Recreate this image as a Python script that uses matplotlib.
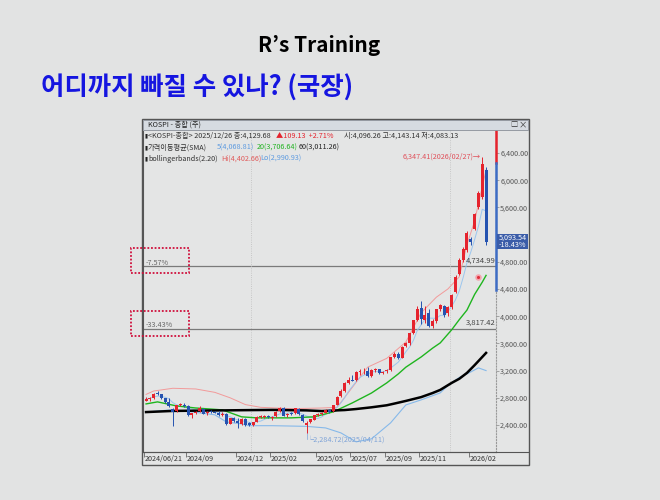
import matplotlib
matplotlib.use('Agg')
import matplotlib.pyplot as plt
from matplotlib.patches import Rectangle
import pandas as pd

plt.rcParams['font.family'] = ['Noto Sans CJK KR', 'DejaVu Sans']

# weekly candles, 2024/06/21 .. 2026/03/06
opens = [2760, 2780, 2800, 2866, 2850, 2790, 2740, 2640, 2600, 2700,
         2700, 2680, 2540, 2580, 2600, 2640, 2570, 2600, 2590, 2580,
         2540, 2560, 2420, 2500, 2460, 2410, 2490, 2430, 2400, 2440,
         2515, 2520, 2530, 2510, 2530, 2600, 2650, 2540, 2570, 2570,
         2640, 2550, 2400, 2440, 2480, 2550, 2560, 2580, 2620, 2600,
         2700, 2820, 2900, 3020, 3060, 3060, 3180, 3190, 3200, 3120,
         3210, 3220, 3170, 3190, 3210, 3400, 3450, 3390, 3560, 3600,
         3750, 3950, 4120, 3950, 4050, 3860, 3930, 4110, 4150, 4040,
         4130, 4350, 4620, 4830, 4970, 5130, 5280, 5600, 5750, 6150]
highs = [2810, 2810, 2870, 2896, 2860, 2800, 2790, 2650, 2700, 2720,
         2720, 2690, 2580, 2600, 2680, 2650, 2610, 2620, 2610, 2600,
         2590, 2570, 2510, 2520, 2500, 2500, 2500, 2450, 2450, 2530,
         2540, 2540, 2540, 2530, 2600, 2670, 2660, 2580, 2590, 2650,
         2650, 2560, 2460, 2490, 2550, 2570, 2590, 2640, 2630, 2700,
         2820, 2930, 3030, 3100, 3130, 3190, 3220, 3240, 3250, 3230,
         3240, 3230, 3200, 3220, 3400, 3470, 3480, 3560, 3620, 3760,
         3950, 4150, 4230, 4150, 4100, 3960, 4110, 4180, 4160, 4143,
         4320, 4600, 4850, 5020, 5250, 5160, 5520, 5840, 6347.41, 6200]
lows = [2750, 2760, 2780, 2840, 2780, 2720, 2670, 2386, 2590, 2680,
        2660, 2530, 2500, 2560, 2590, 2560, 2550, 2580, 2570, 2530,
        2530, 2400, 2410, 2440, 2360, 2400, 2390, 2390, 2390, 2440,
        2500, 2510, 2500, 2480, 2520, 2590, 2530, 2520, 2540, 2560,
        2550, 2450, 2284.72, 2430, 2470, 2530, 2550, 2570, 2570, 2590,
        2690, 2810, 2890, 3010, 3040, 3050, 3140, 3150, 3110, 3100,
        3180, 3150, 3150, 3170, 3200, 3380, 3370, 3380, 3540, 3580,
        3740, 3930, 3880, 3900, 3840, 3820, 3900, 4080, 3990, 4010,
        4110, 4340, 4600, 4800, 4950, 5050, 5260, 5580, 5730, 5050]
closes = [2784, 2797, 2862, 2857, 2795, 2731, 2676, 2588, 2697, 2701,
          2674, 2544, 2575, 2593, 2649, 2569, 2596, 2593, 2583, 2542,
          2561, 2416, 2501, 2455, 2428, 2494, 2404, 2404, 2441, 2515,
          2523, 2536, 2517, 2522, 2591, 2654, 2532, 2563, 2566, 2643,
          2557, 2465, 2432, 2483, 2546, 2559, 2577, 2626, 2592, 2697,
          2812, 2894, 3021, 3055, 3054, 3175, 3188, 3196, 3119, 3210,
          3225, 3168, 3186, 3205, 3395, 3445, 3386, 3549, 3610, 3748,
          3941, 4107, 3953, 4011, 3853, 3926, 4100, 4167, 4020, 4130,
          4310, 4580, 4830, 4990, 5220, 5090, 5500, 5810, 6240, 5093.54]

month_labels = ['2024/06/21', '2024/09', '2024/12', '2025/02', '2025/05',
                '2025/07', '2025/09', '2025/11', '2026/02']
month_weeks = [0, 11, 24, 33, 45, 54, 63, 72, 85]

ma20_weeks = [0, 3, 8, 13, 20, 25, 29, 38, 44, 49, 54, 59, 63, 66, 68, 72, 75, 77, 80, 82, 84, 86, 88, 89]
ma20_vals = [2710, 2740, 2680, 2650, 2622, 2520, 2505, 2505, 2520, 2593,
             2725, 2870, 3019, 3150, 3250, 3400, 3530, 3607, 3800, 3950,
             4090, 4320, 4500, 4600]
ma60_weeks = [0, 7, 20, 33, 42, 46, 52, 55, 59, 63, 65, 68, 72, 75, 77, 80, 82, 84, 86, 88, 89]
ma60_vals = [2590, 2607, 2615, 2622, 2615, 2605, 2620, 2635, 2660, 2690,
             2715, 2754, 2810, 2870, 2916, 3019, 3080, 3166, 3280, 3400, 3460]
bb_hi_weeks = [0, 2, 7, 13, 18, 22, 26, 30, 38, 46, 50, 53, 58, 63, 68, 72, 76, 79, 82, 84, 86, 88, 89]
bb_hi_vals = [2850, 2900, 2940, 2930, 2880, 2800, 2700, 2660, 2640, 2650, 2660,
              2880, 3250, 3380, 3620, 4050, 4280, 4400, 4580, 5050, 5400, 5900, 6150]
bb_lo_weeks = [0, 6, 12, 18, 21, 25, 27, 33, 42, 47, 51, 55, 59, 64, 68, 72, 77, 79, 82, 85, 87, 89]
bb_lo_vals = [2590, 2620, 2593, 2550, 2445, 2416, 2390, 2390, 2380, 2357, 2284,
              2152, 2196, 2431, 2695, 2769, 2872, 2980, 3100, 3180, 3240, 3200]

price_ticks = [2400, 2800, 3200, 3600, 4000, 4400, 4800, 5600, 6000, 6400]
level_lines = [4734.99, 3817.42]

BG = '#e2e3e3'
RED = '#e5232d'
BLUE = '#2553b0'
W, H = 660, 500


def px(x0, y0, x1, y1):
    return [x0 / W, 1 - y1 / H, (x1 - x0) / W, (y1 - y0) / H]


def ftext(x, y, s, **kw):
    kw.setdefault('fontsize', 5.2)
    kw.setdefault('va', 'center')
    fig.text(x / W, 1 - y / H, s, **kw)


fig = plt.figure(figsize=(6.6, 5), dpi=100, facecolor=BG)

# slide titles
ftext(319, 45, 'R’s Training', fontsize=15, fontweight='bold', ha='center', color='black')
ftext(41, 88, '어디까지 빠질 수 있나? (국장)', fontsize=18.3, fontweight='bold',
      ha='left', color='#1515e0')

# chart window frame and title bar
fig.patches.append(Rectangle((142 / W, 1 - 465 / H), 387 / W, 346 / H, transform=fig.transFigure,
                             facecolor='#e4e5e5', edgecolor='#555555', lw=1.0, zorder=-1))
fig.patches.append(Rectangle((143 / W, 1 - 130 / H), 385 / W, 10 / H, transform=fig.transFigure,
                             facecolor='#d6dbe1', edgecolor='#8a9099', lw=0.6, zorder=1))
ftext(148, 125, 'KOSPI - 종합 (주)', color='#222222')
ftext(510, 125, '□', color='#333333')
ftext(519, 125, '×', color='#333333', fontsize=6)

ax = fig.add_axes(px(143, 131, 496, 452))
ax.set_facecolor('#e4e5e5')
ax.set_xlim(-0.8, 91.6)
ax.set_ylim(2003, 6723)

# candles
xs = list(range(len(closes)))
for i in xs:
    o, h, l, c = opens[i], highs[i], lows[i], closes[i]
    col = RED if c >= o else BLUE
    ax.vlines(i, l, h, color=col, lw=0.7, zorder=3)
    ax.bar(i, max(abs(c - o), 10), bottom=min(o, c), width=0.78, color=col, zorder=4, lw=0)

# indicators
ax.plot(bb_hi_weeks, bb_hi_vals, color='#f29a9a', lw=0.7, zorder=2)
ax.plot(bb_lo_weeks, bb_lo_vals, color='#86b9ea', lw=0.8, zorder=2)
ma5 = pd.Series(closes).rolling(5, min_periods=1).mean()
ax.plot(xs, ma5, color='#9cc6ee', lw=0.7, zorder=2)
ax.plot(ma20_weeks, ma20_vals, color='#1fb51f', lw=1.0, zorder=2)
ax.plot(ma60_weeks, ma60_vals, color='black', lw=1.8, zorder=2, solid_joinstyle='round')

# level lines
for lv in level_lines:
    ax.axhline(lv, color='#7a7a7a', lw=0.9, zorder=1)
    ax.text(91.5, lv + 25, f'{lv:,.2f}', ha='right', va='bottom', fontsize=5.5, color='#444444')

# year separators
for xv in [27.5, 79.5]:
    ax.axvline(xv, color='#bdbdbd', lw=0.6, ls=':', zorder=1)

# annotations
ax.text(87.7, 6347.41, '6,347.41(2026/02/27)→', ha='right', va='center', fontsize=5.2, color='#e0505a')
ax.plot([42, 42], [2284.72, 2190], color='#7fa4d8', lw=0.5)
ax.text(42, 2190, '└2,284.72(2025/04/11)', ha='left', va='center', fontsize=5.2, color='#7fa4d8')
ax.scatter([87], [4580], s=22, color='#f4a4ad', zorder=5, lw=0)
ax.scatter([87], [4580], s=5, color='#e0303c', zorder=6, lw=0)

# right price axis
ax.yaxis.tick_right()
ax.set_yticks(price_ticks)
ax.set_yticklabels([f'{v:,.2f}' for v in price_ticks])
ax.tick_params(axis='y', direction='out', length=2, width=0.5, colors='#888888',
               labelsize=5.2, labelcolor='#555555', pad=1)
ax.set_xticks([])
ax.spines['top'].set_visible(False)
ax.spines['right'].set_linestyle(':')
ax.spines['right'].set_color('#999999')
ax.spines['left'].set_color('#555555')
ax.spines['bottom'].set_color('#555555')
ax.plot([91.5, 91.5], [6253, 6723], color=RED, lw=1.8, clip_on=False, zorder=6)
ax.plot([91.5, 91.5], [4385, 6253], color='#3d6cc4', lw=1.8, clip_on=False, zorder=6)

# current price box
fig.patches.append(Rectangle((497 / W, 1 - 249 / H), 31 / W, 15 / H, transform=fig.transFigure,
                             facecolor='#3a5ca8', edgecolor='none', zorder=5))
ftext(499, 237.5, '5,093.54', color='white', zorder=6)
ftext(499, 245, '-18.43%', color='white', zorder=6)

# date axis
axd = fig.add_axes(px(143, 452, 496, 464))
axd.set_facecolor('#e4e5e5')
axd.set_xlim(-0.8, 91.6)
axd.set_ylim(0, 1)
axd.axis('off')
for wk, lab in zip(month_weeks, month_labels):
    xt = max(wk - 0.5, -0.75)
    axd.vlines(xt, 0.55, 1, color='#666666', lw=0.6)
    axd.text(xt + 0.15, 0.45, lab, ha='left', va='center', fontsize=5.2, color='#333333')
fig.add_artist(plt.Line2D([143 / W, 528 / W], [1 - 452 / H] * 2, color='#555555', lw=0.8))

# legend lines inside the chart
for yy in [136, 148, 159]:
    ftext(144.5, yy, '▮', color='#222222', fontsize=4)
ftext(148, 136, '<KOSPI-종합> 2025/12/26 종:4,129.68', color='#333333')
ftext(276, 136, '▲109.13  +2.71%', color=RED)
ftext(344, 136, '시:4,096.26 고:4,143.14 저:4,083.13', color='#333333')
ftext(148, 148, '가격이동평균(SMA)', color='#333333')
ftext(217, 148, '5(4,068.81)', color='#5e9be0')
ftext(257, 148, '20(3,706.64)', color='#22b322')
ftext(299, 148, '60(3,011.26)', color='#222222')
ftext(148, 159, 'bollingerbands(2.20)', color='#333333')
ftext(221, 159, 'Hi(4,402.66)', color='#e05a5a')
ftext(260, 159, 'Lo(2,990.93)', color='#5e9be0')

# drawdown markers with dotted boxes
ftext(146, 263, '-7.57%', color='#666666')
ftext(146, 325, '-33.43%', color='#666666')
for y0 in [248, 311]:
    fig.patches.append(Rectangle((131 / W, 1 - (y0 + 25) / H), 58 / W, 25 / H,
                                 transform=fig.transFigure, fill=False,
                                 edgecolor='#d0103c', lw=1.3, ls=(0, (1, 1)), zorder=7))

fig.savefig('out.png', dpi=100, facecolor=BG)
